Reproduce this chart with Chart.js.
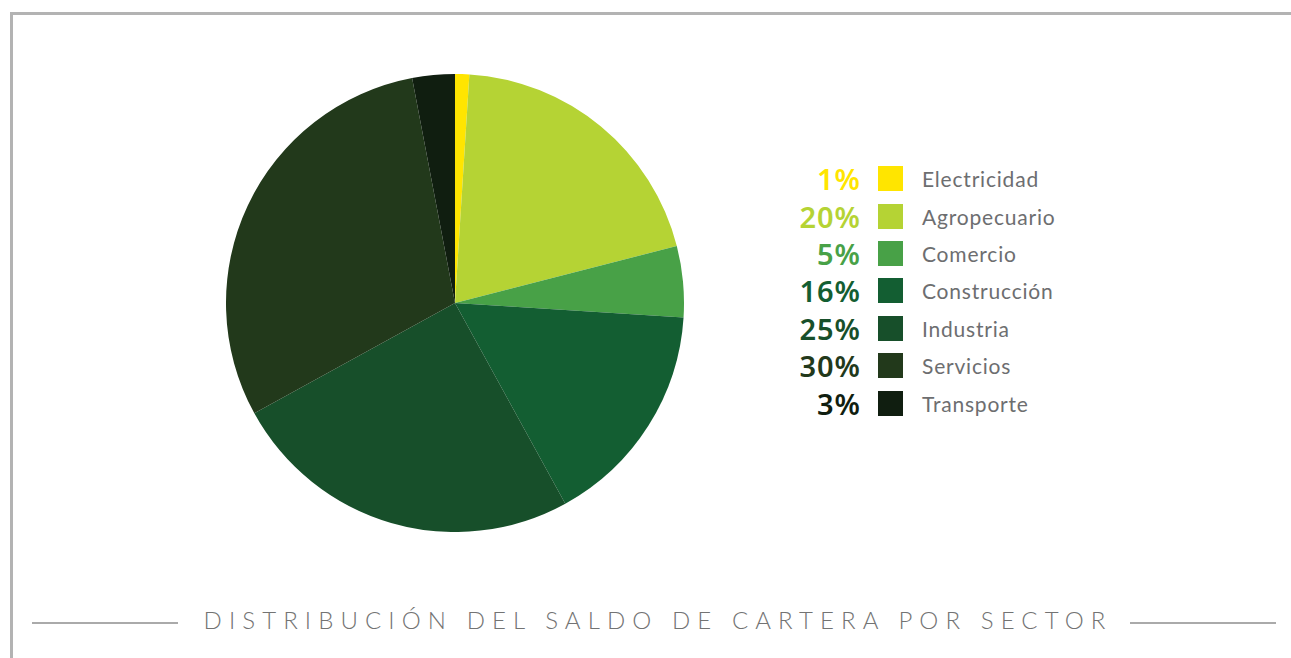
<!DOCTYPE html>
<html lang="es">
<head>
  <meta charset="UTF-8">
  <title>Distribución del saldo de cartera por sector</title>
  <script src="https://cdn.jsdelivr.net/npm/chart.js"></script>
  <style>
    body {
      margin: 0;
      background: #fff;
      width: 1291px;
      height: 658px;
      position: relative;
      overflow: hidden;
      font-family: 'Lato', 'Noto Sans', sans-serif;
    }

    #frame {
      position: absolute;
      left: 10px;
      top: 12px;
      width: 1290px;
      height: 660px;
      border-top: 3px solid #b3b3b3;
      border-left: 3px solid #b3b3b3;
    }

    #pieChart {
      position: absolute;
      left: 226px;
      top: 74px;
    }

    #legend {
      position: absolute;
      left: 789px;
      top: 160px;
    }

    .row {
      display: flex;
      align-items: center;
      height: 37.4px;
    }

    .pct {
      width: 72px;
      text-align: right;
      font-family: 'Noto Sans', sans-serif;
      font-weight: 600;
      font-size: 29px;
      letter-spacing: 1px;
    }

    .box {
      width: 25px;
      height: 25px;
      margin-left: 17px;
    }

    .lbl {
      margin-left: 19px;
      font-size: 21px;
      letter-spacing: 0.8px;
      color: #6d6e70;
    }

    #title {
      position: absolute;
      left: 9px;
      width: 1291px;
      top: 605px;
      text-align: center;
      font-size: 24px;
      font-weight: 300;
      letter-spacing: 7.1px;
      text-indent: 7px;
      color: #737373;
    }

    .rule {
      position: absolute;
      top: 622px;
      height: 2px;
      background: #aaa;
      width: 146px;
    }
  </style>
</head>
<body>

<div id="frame"></div>
<canvas id="pieChart" width="458" height="458"></canvas>
<div id="legend"></div>
<div class="rule" style="left: 32px;"></div>
<div class="rule" style="left: 1130px;"></div>
<div id="title">DISTRIBUCIÓN DEL SALDO DE CARTERA POR SECTOR</div>

<script>
  var sectors = ['Electricidad', 'Agropecuario', 'Comercio', 'Construcción', 'Industria', 'Servicios', 'Transporte'];
  var shares = [1, 20, 5, 16, 25, 30, 3];
  var sectorColors = ['#ffe500', '#b5d334', '#48a147', '#135e32', '#174f2a', '#22391b', '#101e10'];

  // legend: percentage, swatch, name
  var legendEl = document.getElementById('legend');
  sectors.forEach(function (name, i) {
    var row = document.createElement('div');
    row.className = 'row';
    row.innerHTML =
      '<div class="pct" style="color:' + sectorColors[i] + '">' + shares[i] + '%</div>' +
      '<div class="box" style="background:' + sectorColors[i] + '"></div>' +
      '<div class="lbl">' + name + '</div>';
    legendEl.appendChild(row);
  });

  var ctx = document.getElementById('pieChart').getContext('2d');

  var pieChart = new Chart(ctx, {
    type: 'pie',
    data: {
      labels: sectors,
      datasets: [{
        data: shares,
        backgroundColor: sectorColors,
        borderWidth: 0
      }]
    },
    options: {
      responsive: false,
      animation: false,
      layout: { padding: 0 },
      plugins: {
        legend: { display: false },
        tooltip: { enabled: false }
      }
    }
  });
</script>

</body>
</html>
